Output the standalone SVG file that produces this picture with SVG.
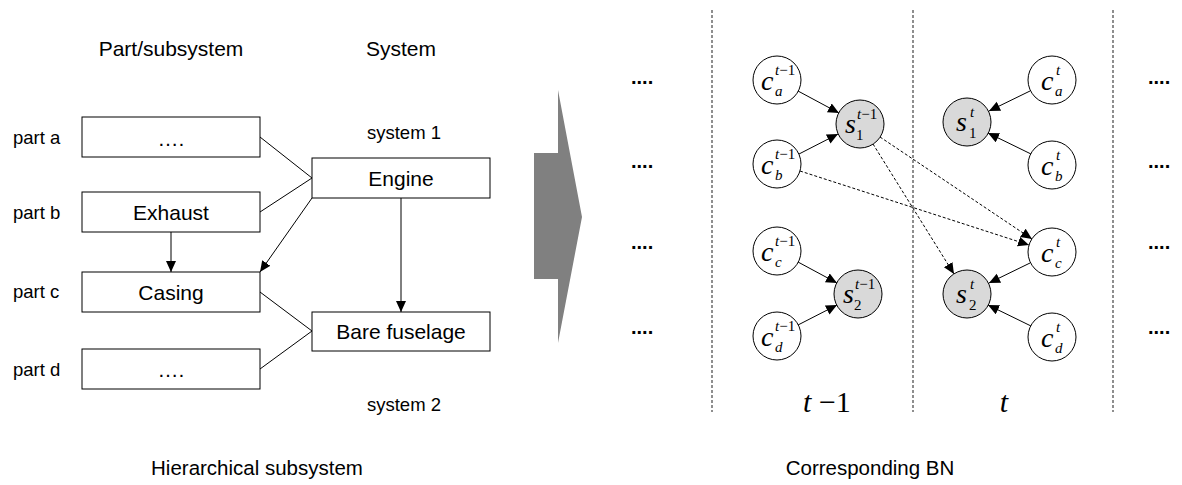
<svg xmlns="http://www.w3.org/2000/svg" width="1182" height="485" viewBox="0 0 1182 485">
<style>
.box{fill:#fff;stroke:#000;stroke-width:1}
.lbl{font-family:"Liberation Sans",Arial,sans-serif;fill:#000}
.big{font-size:21px;text-anchor:middle}
.sm{font-size:18.5px}
.bot{font-size:20.5px;text-anchor:middle}
.ln{stroke:#000;stroke-width:1;fill:none}
.dl{stroke:#000;stroke-width:1;fill:none;stroke-dasharray:3,2}
.vd{stroke:#444;stroke-width:1.2;fill:none;stroke-dasharray:3,2}
.cn{fill:#fff;stroke:#000;stroke-width:1}
.sn{fill:#d9d9d9;stroke:#000;stroke-width:1}
.m{font-family:"Liberation Serif","Times New Roman",serif;fill:#000}
.mi{font-style:italic;font-size:28px}
.sup{font-size:15px}
.it{font-style:italic}
.dots{font-family:"Liberation Sans",Arial,sans-serif;font-size:20px;font-weight:bold;fill:#000}
</style>
<defs>
<marker id="ah" markerUnits="userSpaceOnUse" markerWidth="12" markerHeight="12" refX="11" refY="5" orient="auto">
<path d="M0,0 L11,5 L0,10 z" fill="#000"/>
</marker>
</defs>

<text class="lbl big" x="171" y="56">Part/subsystem</text>
<text class="lbl big" x="401" y="56">System</text>

<text class="lbl sm" x="13" y="144">part a</text>
<text class="lbl sm" x="13" y="219">part b</text>
<text class="lbl sm" x="13" y="298">part c</text>
<text class="lbl sm" x="13" y="376">part d</text>
<text class="lbl sm" x="404" y="139" text-anchor="middle">system 1</text>
<text class="lbl sm" x="404" y="411" text-anchor="middle">system 2</text>

<g id="part-a"><rect class="box" x="82" y="117" width="178" height="40"/><text class="lbl big" x="171" y="146">….</text></g>
<g id="part-b"><rect class="box" x="82" y="192" width="178" height="40"/><text class="lbl big" x="171" y="220">Exhaust</text></g>
<g id="part-c"><rect class="box" x="82" y="272" width="178" height="40"/><text class="lbl big" x="171" y="300">Casing</text></g>
<g id="part-d"><rect class="box" x="82" y="349" width="178" height="40"/><text class="lbl big" x="171" y="377">….</text></g>
<g id="engine"><rect class="box" x="312" y="158" width="178" height="40"/><text class="lbl big" x="401" y="186">Engine</text></g>
<g id="bare-fuselage"><rect class="box" x="312" y="312" width="178" height="39"/><text class="lbl big" x="401" y="339">Bare fuselage</text></g>

<g id="left-connectors">
<line class="ln" x1="260" y1="137" x2="312" y2="178"/>
<line class="ln" x1="260" y1="212" x2="312" y2="178"/>
<line class="ln" x1="260" y1="292" x2="312" y2="331"/>
<line class="ln" x1="260" y1="369" x2="312" y2="331"/>
<line class="ln" x1="171" y1="232" x2="171" y2="272" marker-end="url(#ah)"/>
<line class="ln" x1="401" y1="198" x2="401" y2="312" marker-end="url(#ah)"/>
<line class="ln" x1="312" y1="198" x2="260" y2="272" marker-end="url(#ah)"/>
</g>

<g id="big-arrow"><polygon points="534,153 558,153 558,90 582,217 558,343 558,279 534,279" fill="#808080"/></g>

<g id="separators">
<line class="vd" x1="712" y1="10" x2="712" y2="412"/>
<line class="vd" x1="913" y1="10" x2="913" y2="412"/>
<line class="vd" x1="1113" y1="10" x2="1113" y2="412"/>
</g>

<g id="dots">
<text class="dots" x="631" y="84">....</text>
<text class="dots" x="631" y="168">....</text>
<text class="dots" x="631" y="249">....</text>
<text class="dots" x="631" y="334">....</text>
<text class="dots" x="1148" y="84">....</text>
<text class="dots" x="1148" y="168">....</text>
<text class="dots" x="1148" y="249">....</text>
<text class="dots" x="1148" y="334">....</text>
</g>

<g id="bn-connectors">
<line class="ln" x1="798" y1="91" x2="839" y2="113" marker-end="url(#ah)"/>
<line class="ln" x1="799" y1="154" x2="838" y2="134" marker-end="url(#ah)"/>
<line class="ln" x1="798" y1="262" x2="837" y2="283" marker-end="url(#ah)"/>
<line class="ln" x1="798" y1="325" x2="837" y2="305" marker-end="url(#ah)"/>
<line class="ln" x1="1030" y1="91" x2="989" y2="111" marker-end="url(#ah)"/>
<line class="ln" x1="1031" y1="154" x2="988" y2="133" marker-end="url(#ah)"/>
<line class="ln" x1="1030" y1="263" x2="989" y2="283" marker-end="url(#ah)"/>
<line class="ln" x1="1031" y1="326" x2="988" y2="305" marker-end="url(#ah)"/>
<line class="dl" x1="880" y1="137" x2="1032" y2="239" marker-end="url(#ah)"/>
<line class="dl" x1="873" y1="144" x2="954" y2="274" marker-end="url(#ah)"/>
<line class="dl" x1="800" y1="171" x2="1029" y2="245" marker-end="url(#ah)"/>
</g>

<g id="ca-tm1"><circle class="cn" cx="777" cy="80" r="24"/><text class="m" x="761" y="90"><tspan class="mi">c</tspan></text><text class="m sup" x="775" y="75"><tspan class="it">t</tspan>−1</text><text class="m sup it" x="775" y="96">a</text></g>
<g id="cb-tm1"><circle class="cn" cx="777" cy="164" r="24"/><text class="m" x="761" y="174"><tspan class="mi">c</tspan></text><text class="m sup" x="775" y="159"><tspan class="it">t</tspan>−1</text><text class="m sup it" x="775" y="180">b</text></g>
<g id="cc-tm1"><circle class="cn" cx="777" cy="251" r="24"/><text class="m" x="761" y="261"><tspan class="mi">c</tspan></text><text class="m sup" x="775" y="246"><tspan class="it">t</tspan>−1</text><text class="m sup it" x="775" y="267">c</text></g>
<g id="cd-tm1"><circle class="cn" cx="777" cy="336" r="24"/><text class="m" x="761" y="346"><tspan class="mi">c</tspan></text><text class="m sup" x="775" y="331"><tspan class="it">t</tspan>−1</text><text class="m sup it" x="775" y="352">d</text></g>
<g id="s1-tm1"><circle class="sn" cx="860" cy="124" r="24"/><text class="m" x="845" y="133"><tspan class="mi">s</tspan></text><text class="m sup" x="857" y="119"><tspan class="it">t</tspan>−1</text><text class="m sup" x="856" y="140">1</text></g>
<g id="s2-tm1"><circle class="sn" cx="858" cy="294" r="24"/><text class="m" x="843" y="303"><tspan class="mi">s</tspan></text><text class="m sup" x="855" y="289"><tspan class="it">t</tspan>−1</text><text class="m sup" x="854" y="310">2</text></g>

<g id="ca-t"><circle class="cn" cx="1052" cy="80" r="24"/><text class="m" x="1041" y="90"><tspan class="mi">c</tspan></text><text class="m sup it" x="1056" y="75">t</text><text class="m sup it" x="1055" y="96">a</text></g>
<g id="cb-t"><circle class="cn" cx="1052" cy="165" r="24"/><text class="m" x="1041" y="175"><tspan class="mi">c</tspan></text><text class="m sup it" x="1056" y="160">t</text><text class="m sup it" x="1055" y="181">b</text></g>
<g id="cc-t"><circle class="cn" cx="1052" cy="252" r="24"/><text class="m" x="1041" y="262"><tspan class="mi">c</tspan></text><text class="m sup it" x="1056" y="247">t</text><text class="m sup it" x="1055" y="268">c</text></g>
<g id="cd-t"><circle class="cn" cx="1052" cy="337" r="24"/><text class="m" x="1041" y="347"><tspan class="mi">c</tspan></text><text class="m sup it" x="1056" y="332">t</text><text class="m sup it" x="1055" y="353">d</text></g>
<g id="s1-t"><circle class="sn" cx="967" cy="122" r="24"/><text class="m" x="956" y="131"><tspan class="mi">s</tspan></text><text class="m sup it" x="970" y="117">t</text><text class="m sup" x="969" y="138">1</text></g>
<g id="s2-t"><circle class="sn" cx="967" cy="294" r="24"/><text class="m" x="956" y="303"><tspan class="mi">s</tspan></text><text class="m sup it" x="970" y="289">t</text><text class="m sup" x="969" y="310">2</text></g>

<text class="m" x="827" y="412" font-size="30" text-anchor="middle"><tspan font-style="italic">t</tspan> −1</text>
<text class="m" x="1004" y="412" font-size="30" font-style="italic" text-anchor="middle">t</text>

<text class="lbl bot" x="257" y="475">Hierarchical subsystem</text>
<text class="lbl bot" x="870" y="475">Corresponding BN</text>
</svg>
